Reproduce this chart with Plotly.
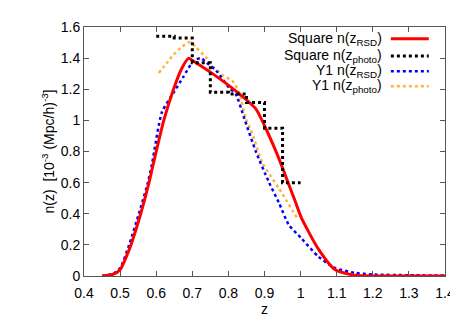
import plotly.graph_objects as go

# Square n(z_RSD) - red solid
sq_rsd_z = [0.45, 0.48, 0.50, 0.52, 0.53, 0.557, 0.58, 0.598, 0.621, 0.648, 0.67, 0.69, 0.70, 0.75,
            0.82, 0.876, 0.903, 0.93, 0.949, 0.985, 1.003, 1.049, 1.095, 1.15, 1.2, 1.3, 1.4]
sq_rsd_n = [0.0, 0.01, 0.04, 0.14, 0.2, 0.4, 0.6, 0.78, 1.0, 1.2, 1.33, 1.40, 1.385, 1.31,
            1.19, 1.074, 0.951, 0.81, 0.70, 0.48, 0.37, 0.174, 0.041, 0.005, 0.0, 0.0, 0.0]

# Square n(z_photo) - black step histogram (bin edges)
sq_photo_z = [0.6, 0.65, 0.7, 0.75, 0.8, 0.85, 0.9, 0.95, 1.0]
sq_photo_n = [1.54, 1.53, 1.37, 1.18, 1.17, 1.115, 0.95, 0.60, 0.60]

# Y1 n(z_RSD) - blue dotted
y1_rsd_z = [0.45, 0.48, 0.50, 0.525, 0.552, 0.577, 0.589, 0.616, 0.648, 0.675, 0.703, 0.723, 0.745,
            0.766, 0.803, 0.821, 0.844, 0.876, 0.912, 0.94, 0.967, 1.003, 1.049, 1.095, 1.149, 1.2,
            1.3, 1.4]
y1_rsd_n = [0.0, 0.015, 0.05, 0.2, 0.4, 0.6, 0.727, 1.054, 1.177, 1.279, 1.381, 1.40, 1.36,
            1.32, 1.207, 1.166, 1.013, 0.80, 0.604, 0.47, 0.33, 0.24, 0.125, 0.052, 0.021, 0.01,
            0.005, 0.003]

# Y1 n(z_photo) - orange dotted
y1_photo_z = [0.607, 0.63, 0.648, 0.67, 0.693, 0.71, 0.739, 0.76, 0.785, 0.812, 0.83, 0.848,
              0.867, 0.894, 0.94, 0.994]
y1_photo_n = [1.304, 1.37, 1.422, 1.47, 1.504, 1.47, 1.402, 1.34, 1.289, 1.25, 1.177, 1.013,
              0.911, 0.727, 0.563, 0.359]

legend_labels = ["Square n(z<sub>RSD</sub>)", "Square n(z<sub>photo</sub>)",
                 "Y1 n(z<sub>RSD</sub>)", "Y1 n(z<sub>photo</sub>)"]

x_ticks = [0.4, 0.5, 0.6, 0.7, 0.8, 0.9, 1.0, 1.1, 1.2, 1.3, 1.4]
x_tick_text = ["0.4", "0.5", "0.6", "0.7", "0.8", "0.9", "1", "1.1", "1.2", "1.3", "1.4"]
y_ticks = [0, 0.2, 0.4, 0.6, 0.8, 1.0, 1.2, 1.4, 1.6]
y_tick_text = ["0", "0.2", "0.4", "0.6", "0.8", "1", "1.2", "1.4", "1.6"]

styles = [
    dict(color="#ff0000", width=3, dash="solid"),
    dict(color="#000000", width=3, dash="dot"),
    dict(color="#0000ff", width=2.5, dash="dot"),
    dict(color="#ffb43c", width=2.5, dash="dot"),
]

fig = go.Figure()
fig.add_trace(go.Scatter(x=y1_photo_z, y=y1_photo_n, mode="lines", line=styles[3], showlegend=False,
                         line_shape="spline", line_smoothing=0.6))
fig.add_trace(go.Scatter(x=y1_rsd_z, y=y1_rsd_n, mode="lines", line=styles[2], showlegend=False,
                         line_shape="spline", line_smoothing=0.6))
fig.add_trace(go.Scatter(x=sq_rsd_z, y=sq_rsd_n, mode="lines", line=styles[0], showlegend=False,
                         line_shape="spline", line_smoothing=0.6))
fig.add_trace(go.Scatter(x=sq_photo_z, y=sq_photo_n, mode="lines", line=styles[1], showlegend=False,
                         line_shape="hv"))

font = "Liberation Sans, Arial, sans-serif"
leg_y = [0.953, 0.884, 0.822, 0.762]
for lab, yy, st in zip(legend_labels, leg_y, styles):
    fig.add_annotation(x=0.83, y=yy, xref="paper", yref="paper", text=lab, showarrow=False,
                       xanchor="right", yanchor="middle", font=dict(family=font, size=14, color="black"))
    fig.add_shape(type="line", xref="paper", yref="paper", x0=0.85, x1=0.955, y0=yy, y1=yy,
                  line=st)

axis_common = dict(showline=True, linecolor="#555", linewidth=1, mirror="ticks", ticks="inside",
                   ticklen=5, tickcolor="#555", showgrid=False, zeroline=False,
                   tickfont=dict(family=font, size=14, color="black"))
fig.update_xaxes(range=[0.4, 1.4], tickvals=x_ticks, ticktext=x_tick_text, ticklabelstandoff=4,
                 title=dict(text="z", font=dict(family=font, size=14, color="black"), standoff=3),
                 **axis_common)
fig.update_yaxes(range=[0, 1.6], tickvals=y_ticks, ticktext=y_tick_text,
                 title=dict(text="n(z)  [10<sup>-3</sup> (Mpc/h)<sup>-3</sup>]",
                            font=dict(family=font, size=14, color="black"), standoff=2),
                 **axis_common)
fig.update_layout(width=458, height=317, margin=dict(l=76, r=16, t=11, b=45),
                  plot_bgcolor="white", paper_bgcolor="white", showlegend=False)
fig.write_html("out.html")
